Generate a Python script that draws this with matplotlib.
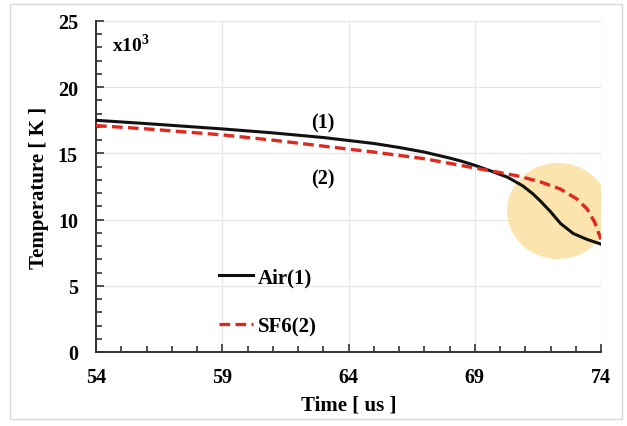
import numpy as np
import matplotlib.pyplot as plt
from matplotlib.patches import Ellipse, Rectangle
from matplotlib.ticker import MultipleLocator

# Data (time in us, temperature in 10^3 K)
t_air = [54, 56, 59, 61, 63, 65, 66, 67, 68, 68.5, 69, 69.6, 70.3, 70.9, 71.3, 71.6, 72.0, 72.4, 72.9, 73.45, 74]
T_air = [17.5, 17.25, 16.85, 16.55, 16.2, 15.75, 15.45, 15.1, 14.65, 14.4, 14.1, 13.7, 13.2, 12.55, 11.95, 11.4, 10.6, 9.7, 8.95, 8.5, 8.15]

t_sf6 = [54, 56, 59, 61, 63, 65, 67, 68, 69, 70, 70.7, 71.6, 72.4, 73.05, 73.45, 73.75, 74]
T_sf6 = [17.1, 16.85, 16.4, 16.0, 15.55, 15.1, 14.6, 14.25, 13.9, 13.55, 13.3, 12.85, 12.3, 11.55, 10.8, 9.8, 8.5]

x_ticks = [54, 59, 64, 69, 74]

plt.rcParams['font.family'] = ['Liberation Serif', 'DejaVu Serif']
plt.rcParams['font.weight'] = 'bold'
plt.rcParams['mathtext.fontset'] = 'custom'
plt.rcParams['mathtext.bf'] = 'Liberation Serif:bold'

fig = plt.figure(figsize=(6.27, 4.27), dpi=100)
ax = fig.add_axes([96 / 627, 1 - 353 / 427, 505 / 627, 331 / 427])

# light frame around the whole picture
fig.patches.append(Rectangle((10 / 627, 7 / 427), 612 / 627, 415 / 427, transform=fig.transFigure,
                             fill=False, edgecolor='#d8d8d8', lw=1))

# highlight circle
ax.add_patch(Ellipse((72.3, 10.65), 4.04, 7.25, facecolor='#fbe2a4', edgecolor='none', alpha=0.9, zorder=1))

ax.plot(t_air, T_air, color='#111111', lw=2.2, label='Air(1)', zorder=3)
ax.plot(t_sf6, T_sf6, color='#e0281e', lw=2.4, ls=(0, (3.2, 1.6)), label='SF6(2)', zorder=4)

ax.set_xlim(54, 74)
ax.set_ylim(0, 25)
ax.set_xticks(x_ticks)
ax.xaxis.set_minor_locator(MultipleLocator(1))
ax.yaxis.set_major_locator(MultipleLocator(5))
ax.yaxis.set_minor_locator(MultipleLocator(1))
ax.tick_params(which='both', direction='in', color='#333333', width=1.2, labelsize=14.5)
ax.tick_params(which='major', length=6)
ax.tick_params(which='minor', length=4)
ax.tick_params(axis='y', pad=13)
ax.tick_params(axis='x', pad=11)
ax.grid(True, which='major', color='#e6e6e6', lw=0.9)
ax.set_axisbelow(True)

for s in ['top', 'right']:
    ax.spines[s].set_visible(False)
for s in ['left', 'bottom']:
    ax.spines[s].set_color('#333333')
    ax.spines[s].set_linewidth(1.4)

ax.set_xlabel('Time [ us ]', fontsize=15, fontweight='bold', labelpad=5)
ax.set_ylabel('Temperature [ K ]', fontsize=15, fontweight='bold', labelpad=6)

ax.text(54.65, 23.3, r'x10$^{\mathbf{3}}$', fontsize=14, fontweight='bold', va='center')
ax.text(63.0, 17.3, '(1)', fontsize=14.5, fontweight='bold', ha='center', va='center')
ax.text(63.0, 13.1, '(2)', fontsize=14.5, fontweight='bold', ha='center', va='center')

ax.legend(loc='upper left', bbox_to_anchor=(0.227, 0.281), frameon=False, fontsize=15,
          handlelength=1.65, handletextpad=0.2, labelspacing=1.38, borderaxespad=0)

fig.savefig('out.png', dpi=100)
